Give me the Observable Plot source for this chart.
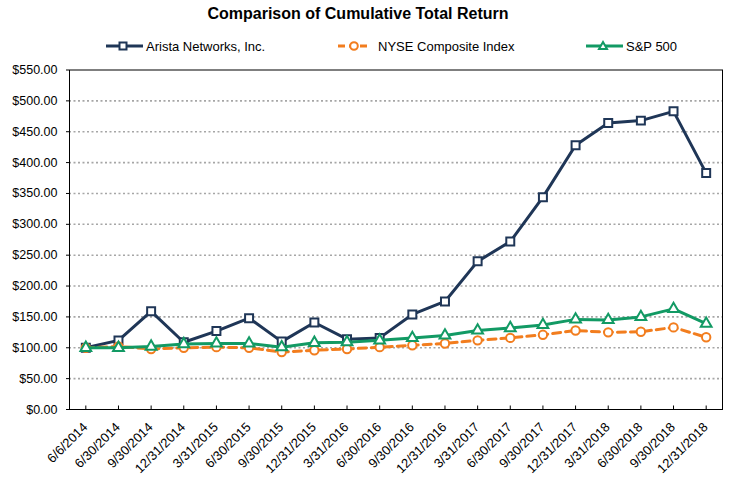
<!DOCTYPE html>
<html>
<head>
<meta charset="utf-8">
<script src="https://cdn.jsdelivr.net/npm/d3@7"></script>
<script src="https://cdn.jsdelivr.net/npm/@observablehq/plot@0.6"></script>
<style>
  body { margin: 0; background: #fff; font-family: "Liberation Sans", Arial, sans-serif; }
  #wrap { position: relative; width: 733px; height: 478px; }
  #title { position: absolute; top: 5px; left: 0; width: 716px; text-align: center; font-weight: bold; font-size: 16px; color: #000; }
  .leg { position: absolute; top: 37px; height: 18px; display: flex; align-items: center; font-size: 13px; color: #000; white-space: nowrap; }
  .leg svg { margin-right: 2px; }
  #chart { position: absolute; top: 60px; left: 0; }
</style>
</head>
<body>
<div id="wrap">
  <div id="title">Comparison of Cumulative Total Return</div>
  <div class="leg" style="left:105px">
    <svg width="39" height="14"><line x1="1" y1="7" x2="38" y2="7" stroke="#1F3657" stroke-width="3"/><rect x="14.5" y="3.5" width="7" height="7" fill="#fff" stroke="#1F3657" stroke-width="2"/></svg>Arista Networks, Inc.
  </div>
  <div class="leg" style="left:336px">
    <svg width="40" height="14"><line x1="2" y1="7" x2="35" y2="7" stroke="#F27D1E" stroke-width="3" stroke-dasharray="7,4"/><circle cx="18" cy="7" r="3.8" fill="#fff" stroke="#F27D1E" stroke-width="2"/></svg>NYSE Composite Index
  </div>
  <div class="leg" style="left:585px">
    <svg width="39" height="14"><line x1="1" y1="7" x2="38" y2="7" stroke="#129A64" stroke-width="3"/><path d="M18,3 L22,10 L14,10 Z" fill="#fff" stroke="#129A64" stroke-width="2"/></svg>S&amp;P 500
  </div>
  <div id="chart"></div>
</div>
<script>
const dates = ["6/6/2014","6/30/2014","9/30/2014","12/31/2014","3/31/2015","6/30/2015","9/30/2015","12/31/2015","3/31/2016","6/30/2016","9/30/2016","12/31/2016","3/31/2017","6/30/2017","9/30/2017","12/31/2017","3/31/2018","6/30/2018","9/30/2018","12/31/2018"];
const arista = [100,112,159,109,127,148,110,141,114,116,154,175,240,272,344,428,464,468,483,383];
const nyse   = [100,102,98,100,101,100,93,96,98,101,104,107,112,116,121,128,125,126,133,117];
const sp500  = [100,100,102,106,107,107,101,108,109,112,116,120,128,132,137,146,145,150,163,139];
const seriesNames = ["Arista Networks, Inc.","NYSE Composite Index","S&P 500"];
const yTicks = [0,50,100,150,200,250,300,350,400,450,500,550];

const colors = {"Arista Networks, Inc.":"#1F3657","NYSE Composite Index":"#F27D1E","S&P 500":"#129A64"};
const rows = (vals, name) => vals.map((v,i) => ({date: dates[i], value: v, series: name}));
const dA = rows(arista, seriesNames[0]);
const dN = rows(nyse, seriesNames[1]);
const dS = rows(sp500, seriesNames[2]);

const chart = Plot.plot({
  width: 733,
  height: 418,
  marginLeft: 69,
  marginRight: 11,
  marginTop: 9.5,
  marginBottom: 69,
  style: {fontFamily: "'Liberation Sans', Arial, sans-serif", fontSize: "12px", color: "#000", background: "#fff"},
  x: {type: "point", domain: dates, padding: 0.5, round: false, label: null},
  y: {domain: [0,550], label: null},
  marks: [
    Plot.gridY(yTicks.filter(t => t > 0 && t < 550), {stroke: "#A6A6A6", strokeOpacity: 1, strokeWidth: 1.6, strokeDasharray: "2,2.5"}),
    Plot.axisY({ticks: yTicks, tickFormat: d => "$" + d.toFixed(2), tickSize: 3, tickPadding: 9, fontSize: 12.5, label: null}),
    Plot.axisX({tickSize: -3.5, tickFormat: () => "", label: null}),
    Plot.axisX({tickRotate: -45, tickSize: 0, tickPadding: 15.5, dx: -0.5, fontSize: 13, label: null}),
    Plot.frame({stroke: "#000", strokeWidth: 1}),
    Plot.line(dA, {x: "date", y: "value", stroke: colors[seriesNames[0]], strokeWidth: 3}),
    Plot.dot(dA, {x: "date", y: "value", symbol: "square", r: 4.5, fill: "#fff", stroke: colors[seriesNames[0]], strokeWidth: 2}),
    Plot.line(dN, {x: "date", y: "value", stroke: colors[seriesNames[1]], strokeWidth: 3, strokeDasharray: "8,5"}),
    Plot.dot(dN, {x: "date", y: "value", symbol: "circle", r: 4.2, fill: "#fff", stroke: colors[seriesNames[1]], strokeWidth: 2}),
    Plot.line(dS, {x: "date", y: "value", stroke: colors[seriesNames[2]], strokeWidth: 3}),
    Plot.dot(dS, {x: "date", y: "value", symbol: "triangle", r: 4, fill: "#fff", stroke: colors[seriesNames[2]], strokeWidth: 2})
  ]
});
document.getElementById("chart").appendChild(chart);
</script>
</body>
</html>
